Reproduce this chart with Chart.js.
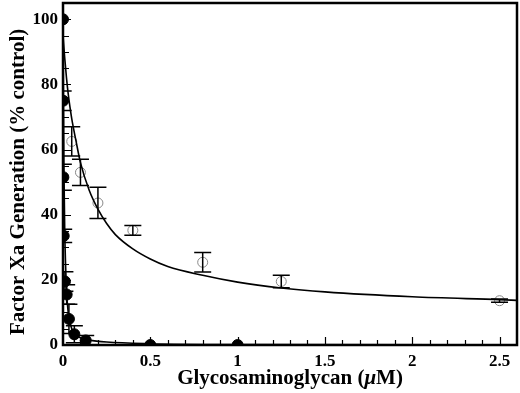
<!DOCTYPE html>
<html lang="en">
<head>
    <meta charset="UTF-8">
    <title>Factor Xa Generation</title>
    <script src="https://cdn.jsdelivr.net/npm/chart.js"></script>
    <style>
        body { margin: 0; background: #fff; }
        #wrap { width: 520px; height: 393px; }
    </style>
</head>
<body>
    <div id="wrap"><canvas id="xaChart" width="520" height="393"></canvas></div>

    <script>
        // open circles (with error bars)
        const openX = [0.05, 0.1, 0.2, 0.4, 0.8, 1.25, 2.5];
        const openY = [62.5, 53, 43.6, 35.2, 25.4, 19.5, 13.6];
        const openErr = [4.5, 4, 4.8, 1.5, 3, 1.9, 0.5];

        // filled circles
        const fillX = [0, 0.001, 0.002, 0.004, 0.011, 0.021, 0.034, 0.065, 0.13, 0.5, 1];
        const fillY = [100, 75, 51.5, 33.5, 19.5, 15.5, 8, 3.3, 1.4, 0, 0];
        const fillErr = [0, 3, 4, 2, 3, 3, 4.5, 2.6, 1.5, 0, 0];

        // fitted curves
        const openCurveX = [0, 0.01, 0.02, 0.03, 0.04, 0.05, 0.075, 0.1, 0.15, 0.2, 0.25, 0.3, 0.4, 0.5, 0.6, 0.8, 1.0, 1.25, 1.5, 2.0, 2.5, 2.6];
        const openCurveY = [95, 88, 82, 77, 73, 69.5, 62.5, 56, 47.5, 41.7, 37.3, 33.9, 29.5, 26.4, 24.1, 21.4, 19.3, 17.5, 16.3, 14.8, 13.9, 13.7];
        const fillCurveX = [0, 0.002, 0.005, 0.01, 0.02, 0.03, 0.05, 0.075, 0.1, 0.15, 0.25, 0.5, 1.0, 2.6];
        const fillCurveY = [100, 80, 55, 35, 17, 10, 5, 3, 2.2, 1.5, 0.9, 0.4, 0.15, 0.05];

        const xTicks = [0, 0.5, 1, 1.5, 2, 2.5];
        const yTicks = [0, 20, 40, 60, 80, 100];

        const pts = (xs, ys) => xs.map((x, i) => ({ x: x, y: ys[i] }));
        const serif = "'Liberation Serif', 'Times New Roman', serif";
        const noPad = s => { s.paddingTop = 0; s.paddingBottom = 0; s.paddingLeft = 0; s.paddingRight = 0; };

        // frame, inward ticks, error bars and the x title
        const decor = {
            id: 'decor',
            afterDatasetsDraw(chart) {
                const ctx = chart.ctx;
                const xs = chart.scales.x, ys = chart.scales.y;
                const area = chart.chartArea;
                ctx.save();
                ctx.strokeStyle = '#000';

                // error bars (clipped to the plot)
                ctx.save();
                ctx.beginPath();
                ctx.rect(area.left, area.top, area.right - area.left, area.bottom - area.top);
                ctx.clip();
                ctx.lineWidth = 1.5;
                const bars = (xv, yv, ev) => {
                    xv.forEach((x, i) => {
                        if (!ev[i]) return;
                        const px = xs.getPixelForValue(x);
                        const top = ys.getPixelForValue(yv[i] + ev[i]);
                        const bot = ys.getPixelForValue(Math.max(0, yv[i] - ev[i]));
                        ctx.beginPath();
                        ctx.moveTo(px, top); ctx.lineTo(px, bot);
                        ctx.moveTo(px - 8.5, top); ctx.lineTo(px + 8.5, top);
                        ctx.moveTo(px - 8.5, bot); ctx.lineTo(px + 8.5, bot);
                        ctx.stroke();
                    });
                };
                bars(openX, openY, openErr);
                bars(fillX, fillY, fillErr);
                ctx.restore();

                // inward ticks
                ctx.lineWidth = 1.2;
                ctx.beginPath();
                for (let v = 0.1; v < 2.6; v += 0.1) {
                    const px = Math.round(xs.getPixelForValue(v)) + 0.5;
                    const major = Math.abs(v * 2 - Math.round(v * 2)) < 1e-6;
                    ctx.moveTo(px, area.bottom);
                    ctx.lineTo(px, area.bottom - (major ? 8 : 5));
                }
                for (let v = 5; v < 105; v += 5) {
                    const py = Math.round(ys.getPixelForValue(v)) + 0.5;
                    const major = v % 20 === 0;
                    ctx.moveTo(area.left, py);
                    ctx.lineTo(area.left + (major ? 8 : 6), py);
                }
                ctx.stroke();

                // frame
                ctx.lineWidth = 2.5;
                ctx.strokeRect(area.left, area.top, area.right - area.left, area.bottom - area.top);

                // x title with italic mu
                const parts = [
                    ['Glycosaminoglycan (', 'bold 21px ' + serif],
                    ['μ', 'italic bold 21px ' + serif],
                    ['M)', 'bold 21px ' + serif]
                ];
                let total = 0;
                parts.forEach(p => { ctx.font = p[1]; total += ctx.measureText(p[0]).width; });
                let tx = (area.left + area.right) / 2 - total / 2;
                ctx.fillStyle = '#000';
                ctx.textBaseline = 'middle';
                ctx.textAlign = 'left';
                parts.forEach(p => {
                    ctx.font = p[1];
                    ctx.fillText(p[0], tx, 379);
                    tx += ctx.measureText(p[0]).width;
                });
                ctx.restore();
            }
        };

        new Chart(document.getElementById('xaChart').getContext('2d'), {
            type: 'scatter',
            data: {
                datasets: [
                    {
                        type: 'line',
                        data: pts(openCurveX, openCurveY),
                        borderColor: '#000',
                        borderWidth: 1.6,
                        pointRadius: 0,
                        cubicInterpolationMode: 'monotone',
                        fill: false
                    },
                    {
                        type: 'line',
                        data: pts(fillCurveX, fillCurveY),
                        borderColor: '#000',
                        borderWidth: 1.6,
                        pointRadius: 0,
                        cubicInterpolationMode: 'monotone',
                        fill: false
                    },
                    {
                        data: pts(openX, openY),
                        pointRadius: 5,
                        pointBackgroundColor: 'rgba(255,255,255,0)',
                        pointBorderColor: '#888',
                        pointBorderWidth: 1
                    },
                    {
                        data: pts(fillX, fillY),
                        pointRadius: 5.5,
                        pointBackgroundColor: '#000',
                        pointBorderColor: '#000',
                        pointBorderWidth: 1
                    }
                ]
            },
            options: {
                responsive: false,
                animation: false,
                layout: { autoPadding: false, padding: { top: 3, right: 3, left: 0, bottom: 0 } },
                plugins: { legend: { display: false }, tooltip: { enabled: false } },
                scales: {
                    x: {
                        type: 'linear',
                        min: 0,
                        max: 2.6,
                        grid: { display: false, drawTicks: false },
                        border: { display: false },
                        afterBuildTicks: s => { s.ticks = xTicks.map(v => ({ value: v })); },
                        afterFit: s => { s.height = 48; noPad(s); },
                        ticks: {
                            padding: 6,
                            color: '#000',
                            maxRotation: 0,
                            callback: v => String(v),
                            font: { family: serif, size: 17, weight: 'bold' }
                        }
                    },
                    y: {
                        type: 'linear',
                        min: 0,
                        max: 105,
                        grid: { display: false, drawTicks: false },
                        border: { display: false },
                        afterBuildTicks: s => { s.ticks = yTicks.map(v => ({ value: v })); },
                        afterFit: s => { s.width = 63; noPad(s); },
                        ticks: {
                            padding: 5,
                            color: '#000',
                            callback: v => String(v),
                            font: { family: serif, size: 17, weight: 'bold' }
                        },
                        title: {
                            display: true,
                            text: 'Factor Xa Generation (% control)\u00a0\u00a0\u00a0',
                            color: '#000',
                            padding: { top: 6, bottom: 0 },
                            font: { family: serif, size: 21, weight: 'bold' }
                        }
                    }
                }
            },
            plugins: [decor]
        });
    </script>
</body>
</html>
